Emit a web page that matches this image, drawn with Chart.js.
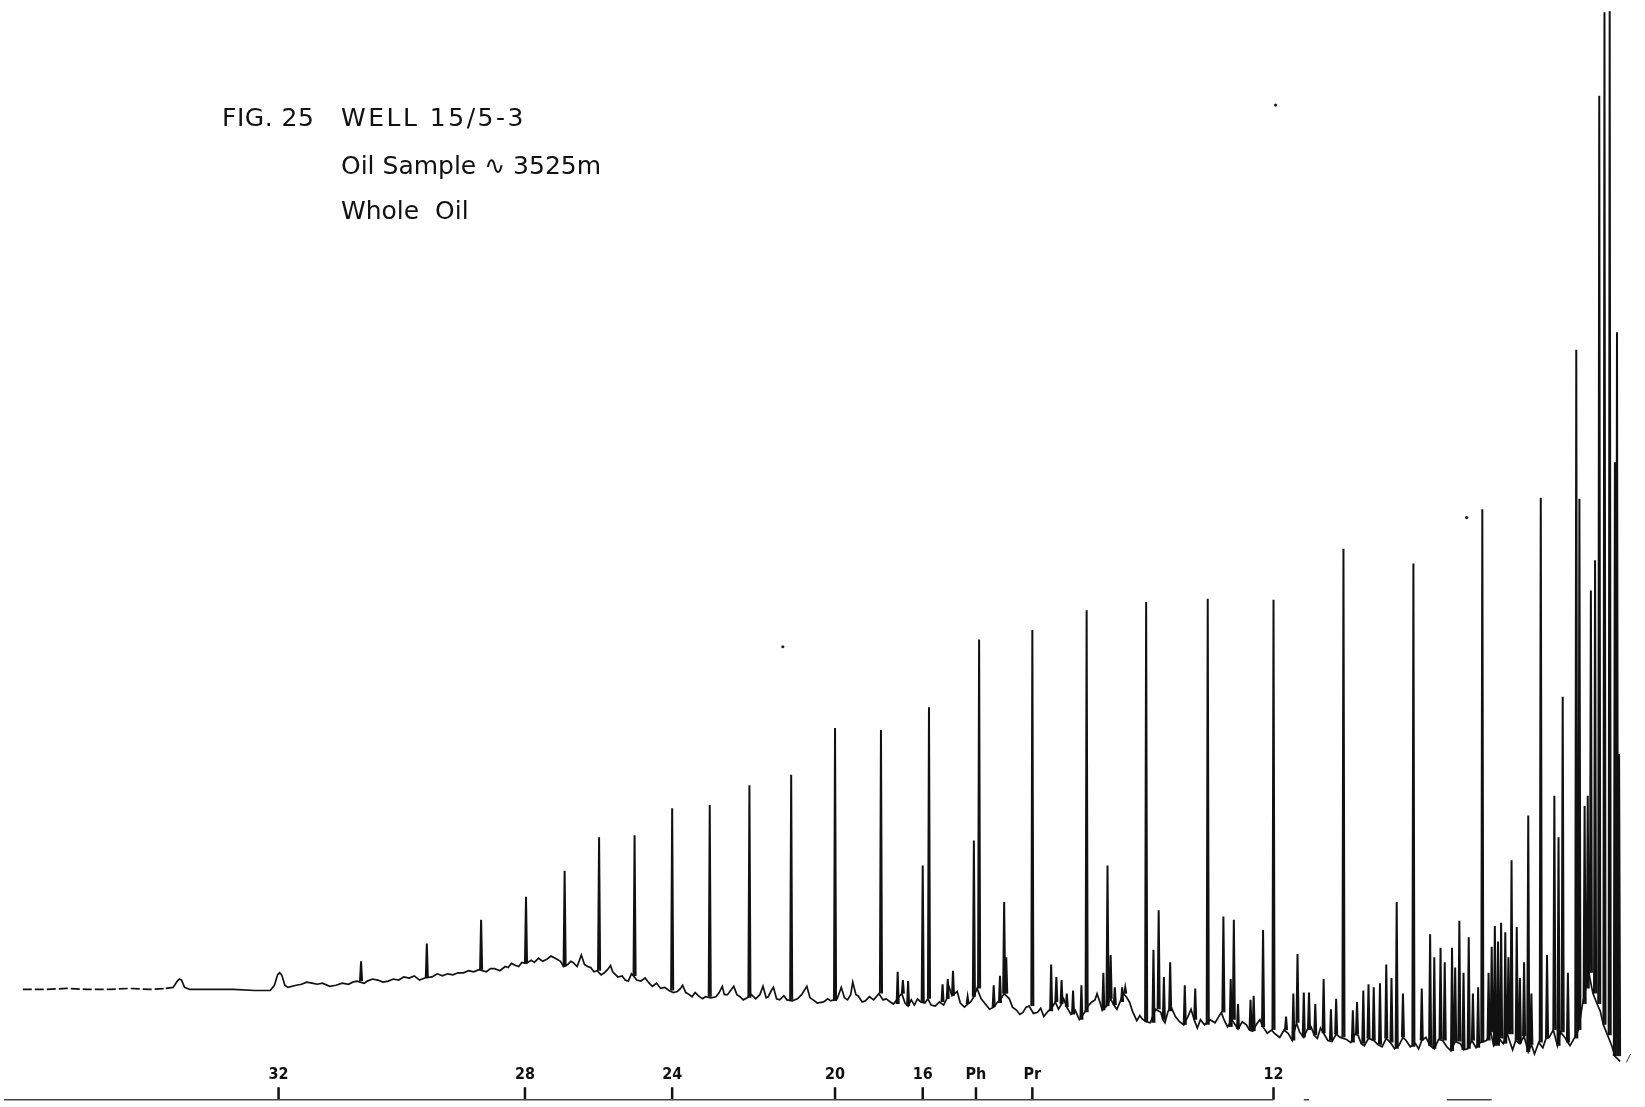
<!DOCTYPE html>
<html>
<head>
<meta charset="utf-8">
<title>Fig. 25 Well 15/5-3 whole oil chromatogram</title>
<script src="https://cdn.jsdelivr.net/npm/chart.js"></script>
<style>
  html, body { margin: 0; padding: 0; background: #fff; }
  #wrap { position: relative; width: 1645px; height: 1107px; }
  .title {
    position: absolute;
    font-family: "DejaVu Sans", sans-serif;
    font-size: 25px;
    line-height: 25px;
    color: #111;
    white-space: pre;
  }
</style>
</head>
<body>
<div id="wrap">
  <canvas id="chart" width="1645" height="1107"></canvas>
  <div class="title" style="left:222px;top:105px;letter-spacing:0.5px">FIG. 25</div>
  <div class="title" style="left:341px;top:105px;letter-spacing:2.5px">WELL 15/5-3</div>
  <div class="title" style="left:341px;top:153px">Oil Sample ∿ 3525m</div>
  <div class="title" style="left:341px;top:198px">Whole  Oil</div>
</div>
<script>
// baseline of the trace: [retention position, detector response]
const baseline = [
  [18, 109], [40, 109], [60, 110], [80, 109], [100, 109], [120, 110], [140, 109], [155, 110], [162, 111], [166, 117],
  [168, 119], [170, 118], [173, 111], [178, 109], [200, 109], [220, 109], [240, 108], [255, 108], [259, 113], [262, 123],
  [264, 125], [266, 123], [269, 113], [272, 111], [280, 113], [285, 114], [290, 116], [295, 115], [300, 114], [305, 115],
  [312, 112], [318, 113], [324, 115], [330, 114], [334, 116], [338, 117], [345, 115], [348, 117], [353, 119], [358, 118],
  [363, 116], [368, 117], [373, 119], [378, 118], [383, 121], [388, 120], [393, 122], [398, 118], [403, 120], [410, 121],
  [415, 124], [420, 122], [425, 124], [430, 123], [435, 125], [440, 125], [445, 127], [450, 126], [455, 128], [462, 126],
  [466, 129], [470, 129], [475, 127], [480, 131], [483, 130], [486, 134], [490, 132], [493, 131], [496, 135], [500, 134],
  [505, 137], [508, 135], [512, 139], [516, 136], [520, 138], [524, 141], [528, 139], [533, 136], [536, 131], [540, 133],
  [543, 136], [545, 135], [549, 131], [553, 142], [556, 133], [559, 131], [562, 130], [565, 126], [568, 127], [572, 123],
  [575, 125], [578, 128], [581, 132], [583, 126], [585, 124], [588, 121], [592, 122], [595, 118], [598, 117], [601, 124],
  [603, 122], [606, 118], [610, 117], [614, 120], [618, 115], [621, 112], [625, 115], [629, 110], [633, 111], [637, 108],
  [641, 106], [645, 107], [648, 110], [650, 113], [653, 106], [655, 105], [659, 102], [662, 106], [665, 103], [669, 100],
  [672, 102], [677, 101], [682, 102], [685, 106], [688, 112], [690, 104], [693, 104], [696, 108], [699, 112], [702, 104],
  [705, 102], [708, 99], [712, 101], [716, 104], [720, 100], [724, 104], [727, 112], [730, 101], [732, 102], [735, 108],
  [737, 111], [740, 100], [743, 99], [747, 103], [750, 99], [755, 98], [760, 100], [764, 104], [769, 112], [772, 101],
  [775, 99], [779, 96], [785, 97], [789, 100], [792, 98], [798, 100], [802, 111], [805, 101], [808, 99], [811, 104],
  [813, 116], [816, 104], [818, 103], [822, 97], [825, 98], [829, 102], [833, 99], [838, 105], [842, 99], [845, 100],
  [849, 97], [852, 95], [858, 103], [860, 105], [863, 96], [866, 93], [869, 99], [872, 94], [875, 100], [878, 97],
  [882, 96], [885, 100], [888, 94], [892, 93], [896, 97], [900, 94], [903, 100], [905, 112], [908, 103], [913, 107],
  [916, 96], [920, 92], [923, 95], [926, 97], [929, 102], [932, 110], [936, 100], [940, 95], [944, 90], [948, 92],
  [951, 96], [955, 100], [958, 105], [963, 100], [966, 92], [970, 89], [973, 85], [976, 87], [979, 92], [982, 93],
  [986, 86], [990, 87], [993, 91], [996, 83], [1000, 88], [1004, 92], [1007, 97], [1010, 90], [1013, 95], [1015, 100],
  [1018, 92], [1022, 85], [1026, 89], [1030, 80], [1033, 84], [1035, 87], [1039, 94], [1042, 97], [1045, 99], [1047, 105],
  [1050, 96], [1052, 89], [1056, 93], [1060, 100], [1063, 94], [1066, 90], [1069, 97], [1072, 105], [1075, 102], [1078, 97],
  [1081, 88], [1085, 79], [1088, 84], [1090, 81], [1094, 78], [1098, 77], [1103, 90], [1108, 87], [1110, 80], [1112, 77],
  [1115, 88], [1118, 92], [1122, 83], [1126, 78], [1130, 75], [1134, 83], [1137, 90], [1140, 80], [1143, 72], [1146, 80],
  [1150, 75], [1155, 80], [1160, 77], [1163, 82], [1166, 87], [1169, 79], [1172, 73], [1176, 80], [1182, 71], [1186, 78],
  [1190, 75], [1193, 70], [1196, 69], [1200, 76], [1203, 80], [1206, 73], [1210, 67], [1214, 70], [1218, 66], [1222, 63],
  [1226, 70], [1230, 67], [1234, 60], [1238, 77], [1241, 68], [1245, 63], [1248, 70], [1252, 73], [1255, 65], [1258, 62],
  [1261, 72], [1264, 67], [1268, 60], [1272, 59], [1276, 66], [1280, 63], [1286, 61], [1290, 58], [1294, 66], [1297, 65],
  [1300, 57], [1303, 55], [1307, 62], [1312, 60], [1316, 56], [1320, 54], [1324, 62], [1328, 58], [1332, 52], [1336, 55],
  [1340, 63], [1343, 60], [1347, 54], [1352, 57], [1355, 52], [1358, 60], [1362, 63], [1366, 55], [1370, 52], [1374, 61],
  [1378, 60], [1382, 54], [1386, 50], [1390, 59], [1395, 57], [1398, 51], [1402, 52], [1406, 60], [1410, 53], [1414, 58],
  [1420, 60], [1424, 68], [1427, 55], [1432, 62], [1436, 57], [1440, 66], [1445, 51], [1448, 60], [1452, 57], [1456, 64],
  [1460, 49], [1463, 56], [1466, 47], [1470, 58], [1474, 53], [1477, 62], [1480, 63], [1484, 70], [1488, 55], [1491, 68],
  [1495, 63], [1498, 58], [1500, 55], [1504, 62], [1508, 70], [1512, 95], [1515, 110], [1518, 125], [1522, 105], [1526, 95],
  [1529, 88], [1532, 75], [1536, 65], [1540, 55], [1543, 45], [1548, 40],
];

// narrow peaks: [position, apex response]
const peaks = [
  [342, 136], [405, 153], [457, 176], [500, 198], [537, 223], [570, 255], [604, 257], [640, 283], [676, 286], [714, 305],
  [754, 315], [796, 360], [840, 358], [856, 126], [861, 118], [866, 117], [880, 228], [886, 380], [899, 114], [904, 119],
  [909, 127], [923, 102], [929, 252], [934, 445], [948, 113], [954, 122], [958, 193], [960, 140], [985, 454], [1003, 133],
  [1008, 121], [1013, 118], [1018, 105], [1024, 108], [1032, 113], [1037, 473], [1053, 125], [1057, 228], [1060, 142], [1064, 111],
  [1071, 111], [1074, 111], [1094, 481], [1101, 147], [1106, 185], [1111, 121], [1117, 135], [1131, 113], [1141, 110], [1153, 484],
  [1168, 179], [1175, 119], [1178, 176], [1182, 95], [1194, 99], [1197, 103], [1206, 166], [1216, 483], [1228, 83], [1235, 105],
  [1239, 143], [1245, 106], [1250, 106], [1256, 95], [1264, 119], [1271, 90], [1276, 100], [1283, 532], [1292, 89], [1296, 97],
  [1302, 108], [1307, 114], [1312, 111], [1318, 115], [1324, 133], [1329, 120], [1334, 193], [1340, 105], [1350, 518], [1358, 110],
  [1366, 162], [1370, 140], [1376, 149], [1380, 135], [1387, 149], [1390, 130], [1394, 175], [1398, 125], [1403, 159], [1407, 105],
  [1412, 111], [1416, 570], [1422, 125], [1425, 150], [1428, 170], [1431, 155], [1434, 173], [1438, 164], [1441, 140], [1444, 233],
  [1449, 169], [1452, 120], [1456, 135], [1460, 276], [1463, 105], [1472, 581], [1478, 142], [1485, 295], [1489, 255], [1493, 390],
  [1498, 125], [1506, 723], [1509, 580], [1514, 285], [1517, 295], [1520, 492], [1524, 521], [1528, 967], [1533, 1047], [1538, 1048],
  [1543, 615], [1545, 740], [1547, 335],
];

// carbon number markers along the bottom
const tickX = [263, 499, 640, 796, 880, 931, 985, 1216];
const tickLabels = ["32", "28", "24", "20", "16", "Ph", "Pr", "12"];

// stray specks on the original sheet
const speckX = [746, 1218, 1401];
const speckY = [438, 958, 562];

function footAt(x) {
  let y = baseline[0][1];
  for (const p of baseline) {
    if (p[0] <= x) y = p[1];
  }
  return y;
}

const trace = baseline.map((p) => ({ x: p[0], y: p[1] }));

const spikes = [];
peaks.forEach(([x, top]) => {
  const foot = footAt(x);
  spikes.push({ x: x - 1, y: foot });
  spikes.push({ x: x, y: top });
  spikes.push({ x: x + 1, y: foot });
  spikes.push({ x: x + 1.1, y: null });
});

const axisLine = [
  { x: 0, y: 3 }, { x: 1216, y: 3 }, { x: 1217, y: null },
  { x: 1245, y: 3 }, { x: 1250, y: 3 }, { x: 1251, y: null },
  { x: 1382, y: 3 }, { x: 1425, y: 3 },
];

const tickMarks = [];
tickX.forEach((x) => {
  tickMarks.push({ x: x, y: 3 });
  tickMarks.push({ x: x, y: 15 });
  tickMarks.push({ x: x + 0.1, y: null });
});

const tickLabelPlugin = {
  id: "tickLabels",
  afterDatasetsDraw(chart) {
    const ctx = chart.ctx;
    const xs = chart.scales.x;
    const ys = chart.scales.y;
    ctx.save();
    ctx.fillStyle = "#111";
    ctx.font = 'bold 16px "DejaVu Sans Condensed", "DejaVu Sans", sans-serif';
    ctx.textAlign = "center";
    ctx.textBaseline = "middle";
    tickX.forEach((x, i) => {
      ctx.fillText(tickLabels[i], xs.getPixelForValue(x), ys.getPixelForValue(27));
    });
    ctx.restore();
  },
};

const ctx = document.getElementById("chart").getContext("2d");
new Chart(ctx, {
  type: "scatter",
  data: {
    datasets: [
      {
        label: "Trace",
        data: trace,
        showLine: true,
        borderColor: "#111",
        borderWidth: 1.7,
        pointRadius: 0,
        tension: 0,
        segment: {
          borderDash: (c) => (c.p0.parsed.x < 150 ? [9, 3] : undefined),
        },
      },
      {
        label: "Peaks",
        data: spikes,
        showLine: true,
        spanGaps: false,
        borderColor: "#111",
        borderWidth: 2,
        pointRadius: 0,
        tension: 0,
      },
      {
        label: "Axis",
        data: axisLine,
        showLine: true,
        spanGaps: false,
        borderColor: "#444",
        borderWidth: 1.5,
        pointRadius: 0,
      },
      {
        label: "Ticks",
        data: tickMarks,
        showLine: true,
        spanGaps: false,
        borderColor: "#111",
        borderWidth: 2.5,
        pointRadius: 0,
      },
      {
        label: "Specks",
        data: speckX.map((x, i) => ({ x: x, y: speckY[i] })),
        showLine: false,
        pointRadius: 1.6,
        pointBackgroundColor: "#222",
        pointBorderWidth: 0,
      },
      {
        label: "Mark",
        data: [{ x: 1554, y: 39 }, { x: 1558, y: 47 }],
        showLine: true,
        borderColor: "#333",
        borderWidth: 1,
        pointRadius: 0,
      },
    ],
  },
  options: {
    responsive: false,
    animation: false,
    devicePixelRatio: 1,
    events: [],
    layout: { padding: 0 },
    scales: {
      x: { type: "linear", min: 0, max: 1568, display: false },
      y: { type: "linear", min: 0, max: 1055, display: false },
    },
    plugins: {
      legend: { display: false },
      tooltip: { enabled: false },
    },
  },
  plugins: [tickLabelPlugin],
});
</script>
</body>
</html>
